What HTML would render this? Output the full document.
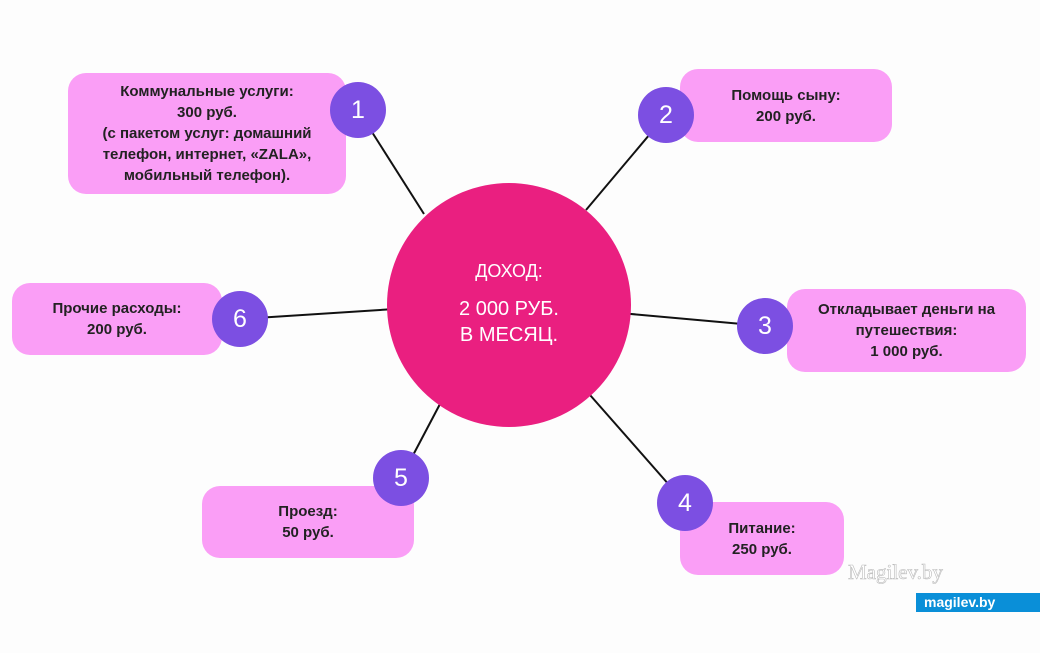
<!DOCTYPE html>
<html><head><meta charset="utf-8"><style>
body{margin:0;width:1040px;height:653px;background:#fdfdfd;position:relative;overflow:hidden;font-family:"Liberation Sans","DejaVu Sans",sans-serif}
.b{position:absolute;background:#fa9ef6;border-radius:18px;display:flex;align-items:center;justify-content:center;text-align:center;font-weight:bold;font-size:15px;line-height:21px;color:#222}
.c{position:absolute;width:56px;height:56px;border-radius:50%;background:#7c4fe2;color:#fff;font-size:25px;display:flex;align-items:center;justify-content:center;margin:-28px 0 0 -28px}
</style></head><body>
<svg width="1040" height="653" style="position:absolute;left:0;top:0">
<g stroke="#111" stroke-width="2">
<line x1="358" y1="110" x2="424" y2="214"/>
<line x1="666" y1="115" x2="586" y2="210"/>
<line x1="620" y1="313" x2="765" y2="326"/>
<line x1="590" y1="395" x2="685" y2="503"/>
<line x1="401" y1="478" x2="440" y2="404"/>
<line x1="240" y1="319" x2="395" y2="309"/>
</g>
<circle cx="509" cy="305" r="122" fill="#ea1f80"/>
</svg>
<div class="b" style="left:68px;top:73px;width:278px;height:121px">Коммунальные услуги:<br>300 руб.<br>(с пакетом услуг: домашний<br>телефон, интернет, «ZALA»,<br>мобильный телефон).</div>
<div class="b" style="left:680px;top:69px;width:212px;height:73px">Помощь сыну:<br>200 руб.</div>
<div class="b" style="left:787px;top:289px;width:239px;height:83px">Откладывает деньги на<br>путешествия:<br>1 000 руб.</div>
<div class="b" style="left:680px;top:502px;width:164px;height:73px">Питание:<br>250 руб.</div>
<div class="b" style="left:202px;top:486px;width:212px;height:72px">Проезд:<br>50 руб.</div>
<div class="b" style="left:12px;top:283px;width:210px;height:72px">Прочие расходы:<br>200 руб.</div>
<div class="c" style="left:358px;top:110px">1</div>
<div class="c" style="left:666px;top:115px">2</div>
<div class="c" style="left:765px;top:326px">3</div>
<div class="c" style="left:685px;top:503px">4</div>
<div class="c" style="left:401px;top:478px">5</div>
<div class="c" style="left:240px;top:319px">6</div>
<div style="position:absolute;left:387px;top:258px;width:244px;text-align:center;color:#fff;font-size:18px;line-height:26px">ДОХОД:<div style="height:12px"></div><span style="font-size:20px">2 000 РУБ.<br>В МЕСЯЦ.</span></div>
<div style="position:absolute;left:848px;top:560px;font-family:'Liberation Serif',serif;font-size:21px;color:#fff;-webkit-text-stroke:0.6px #bbb">Magilev.by</div>
<div style="position:absolute;left:916px;top:593px;width:124px;height:19px;background:#0a8fd8;color:#fff;font-weight:bold;font-size:14px;line-height:19px;padding-left:8px;box-sizing:border-box">magilev.by</div>
</body></html>
